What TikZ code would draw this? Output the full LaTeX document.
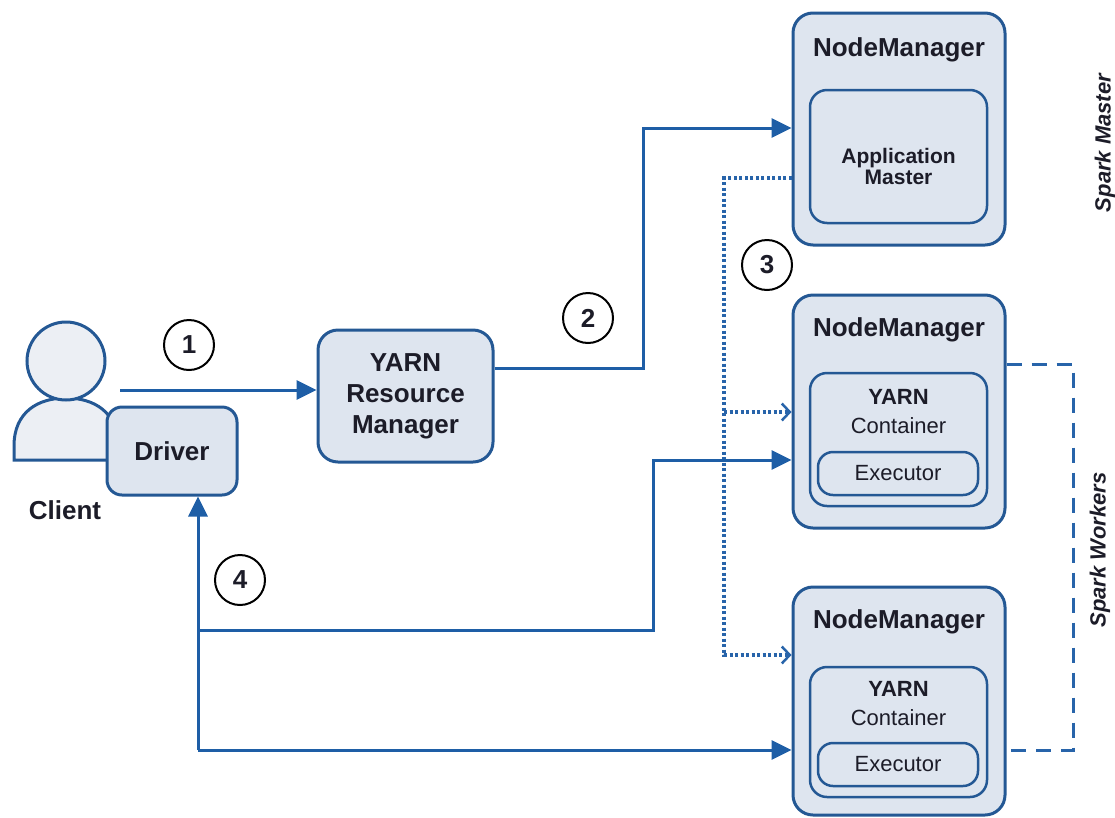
\documentclass[tikz,border=0pt]{standalone}
\usepackage{fontspec}
\setmainfont{Liberation Sans}
\usetikzlibrary{arrows.meta}
\definecolor{edge}{RGB}{36,88,148}
\definecolor{pane}{RGB}{222,229,239}
\definecolor{skin}{RGB}{236,239,244}
\definecolor{flowc}{RGB}{30,94,166}
\definecolor{dotc}{RGB}{40,100,170}
\definecolor{ink}{RGB}{28,28,40}
\begin{document}
\begin{tikzpicture}
	[x=1pt,y=-1pt,
	every node/.style={text=ink,inner sep=0pt},
	box/.style={draw=edge,fill=pane,line width=3pt,rounded corners=20pt},
	inbox/.style={draw=edge,fill=pane,line width=2.5pt,rounded corners=17pt},
	big/.style={font=\fontsize{26}{31}\selectfont\bfseries,align=center},
	mid/.style={font=\fontsize{21}{21}\selectfont\bfseries,align=center},
	small/.style={font=\fontsize{22}{29}\selectfont,align=center},
	num/.style={circle,draw=black,line width=2pt,minimum size=50pt,font=\fontsize{26}{26}\selectfont\bfseries},
	side/.style={rotate=90,font=\fontsize{22}{22}\selectfont\bfseries\itshape},
	flow/.style={draw=flowc,line width=3pt,-{Triangle[length=20pt,width=19pt]}},
	call/.style={draw=dotc,line width=3.5pt,dash pattern=on 3pt off 2.5pt,-{Straight Barb[length=8pt,width=17pt,line width=2.5pt]}},
	group/.style={draw=dotc,line width=3pt,dash pattern=on 15pt off 10pt}
	]
	\fill[white] (0,0) rectangle (1115,817);
	\useasboundingbox (0,0) rectangle (1115,817);
	% client
	\draw[draw=edge,fill=skin,line width=3pt] (14,460) -- (14,446) .. controls (14,412) and (38,398) .. (66,398) .. controls (94,398) and (118,412) .. (118,446) -- (118,460) -- cycle;
	\node[circle,draw=edge,fill=skin,line width=3pt,minimum size=78pt] (head) at (66,361) {};
	\node[big] (cli) at (65,510) {Client};
	\node[box,rounded corners=15pt,minimum width=130pt,minimum height=88pt,big] (drv) at (172,451) {Driver};
	% resource manager
	\node[box,minimum width=175pt,minimum height=132pt,big] (rm) at (405.5,396) {YARN\\Resource\\Manager};
	% spark master
	\node[box,minimum width=212pt,minimum height=232pt] (nm1) at (899,129) {};
	\node[big] (nm1t) at (899,50) {NodeManager};
	\node[inbox,minimum width=177pt,minimum height=133pt] (am) at (898.5,156.5) {};
	\node[mid] (amt) at (898.5,166) {Application\\Master};
	% spark workers
	\node[box,minimum width=212pt,minimum height=233pt] (nm2) at (899,411.5) {};
	\node[big] (nm2t) at (899,330) {NodeManager};
	\node[inbox,minimum width=177pt,minimum height=133pt] (yc2) at (898.5,439.5) {};
	\node[small] (yc2t) at (898.5,412) {\bfseries YARN\\Container};
	\node[inbox,rounded corners=15pt,minimum width=160pt,minimum height=43pt,small] (ex2) at (898,473.5) {Executor};
	\node[box,minimum width=212pt,minimum height=228pt] (nm3) at (899,701) {};
	\node[big] (nm3t) at (899,622) {NodeManager};
	\node[inbox,minimum width=177pt,minimum height=130pt] (yc3) at (898.5,732) {};
	\node[small] (yc3t) at (898.5,703.5) {\bfseries YARN\\Container};
	\node[inbox,rounded corners=15pt,minimum width=160pt,minimum height=43pt,small] (ex3) at (898,764.5) {Executor};
	% side labels
	\node[side] (sm) at (1105,143) {Spark Master};
	\node[side] (sw) at (1100,550) {Spark Workers};
	% steps
	\node[num] (n1) at (189,345) {1};
	\node[num] (n2) at (588,318) {2};
	\node[num] (n3) at (767,265) {3};
	\node[num] (n4) at (240,580) {4};
	% connectors
	\coordinate (c1) at (120,390);
	\draw[flow] (c1) -- (c1 -| rm.west);
	\coordinate (k2) at (643,368);
	\coordinate (k2a) at (643,128);
	\draw[flow] (k2 -| rm.east) -- (k2) -- (k2a) -- (k2a -| nm1.west);
	\coordinate (k3a) at (724,178);
	\coordinate (k3b) at (724,412);
	\coordinate (k3c) at (724,655);
	\draw[call] (k3a -| nm1.west) -- (k3a) -- (k3c) -- (k3c -| nm3.west);
	\draw[call] (k3b) -- (k3b -| nm2.west);
	\coordinate (k4a) at (198,750);
	\coordinate (k4b) at (198,630);
	\coordinate (k4c) at (653,630);
	\coordinate (k4d) at (653,460);
	\draw[flow] (k4a) -- (k4a |- drv.south);
	\draw[flow] (k4a) -- (k4a -| nm3.west);
	\draw[flow] (k4b) -- (k4c) -- (k4d) -- (k4d -| nm2.west);
	\coordinate (g1) at (1073,364);
	\coordinate (g2) at (1073,750);
	\draw[group] (g1 -| nm2.east) -- (g1) -- (g2) -- (g2 -| nm3.east);
\end{tikzpicture}
\end{document}
